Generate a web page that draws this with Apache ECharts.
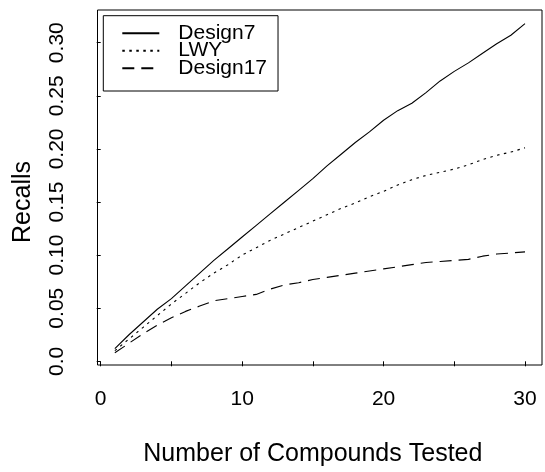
<!DOCTYPE html>
<html><head><meta charset="utf-8">
<script src="https://cdn.jsdelivr.net/npm/echarts@6/dist/echarts.min.js"></script>
<style>html,body{margin:0;padding:0;background:#fff}#c{width:545px;height:472px}</style>
</head><body><div id="c"></div>
<script>
const compounds = [1,2,3,4,5,6,7,8,9,10,11,12,13,14,15,16,17,18,19,20,21,22,23,24,25,26,27,28,29,30];
const design7 = [0.012,0.025,0.037,0.049,0.059,0.071,0.083,0.095,0.106,0.117,0.128,0.139,0.150,0.161,0.172,0.184,0.195,0.206,0.216,0.227,0.236,0.243,0.253,0.264,0.273,0.281,0.290,0.299,0.307,0.318];
const lwy = [0.010,0.021,0.032,0.043,0.054,0.064,0.074,0.083,0.091,0.100,0.107,0.114,0.120,0.126,0.132,0.138,0.144,0.149,0.155,0.160,0.166,0.171,0.175,0.178,0.181,0.185,0.190,0.194,0.197,0.201];
const design17 = [0.008,0.017,0.026,0.034,0.041,0.047,0.052,0.057,0.059,0.061,0.063,0.068,0.072,0.074,0.077,0.079,0.081,0.083,0.085,0.087,0.089,0.091,0.093,0.094,0.095,0.096,0.099,0.101,0.102,0.103];
const xTickLabels = ['0','10','20','30'];
const yTickLabels = ['0.0','0.05','0.10','0.15','0.20','0.25','0.30'];
const seriesNames = ['Design7','LWY','Design17'];

const FONT = 'Liberation Sans, Arial, sans-serif';
const chart = echarts.init(document.getElementById('c'), null, {renderer:'canvas'});
const pair = arr => compounds.map((x,i)=>[x, arr[i]]);
const mk = (name, arr, type) => ({
  name, type:'line', data: pair(arr), xAxisIndex:0, yAxisIndex:0,
  symbol:'none', clip:false, animation:false,
  lineStyle:{color:'#000', width:1.1, type}
});
chart.setOption({
  animation:false,
  backgroundColor:'#fff',
  textStyle:{fontFamily:FONT, color:'#000'},
  grid:[
    {left:100.7, right:20, top:42.7, bottom:108.7, show:false},
    {left:97.5, right:3, top:10, bottom:107, show:true, borderColor:'#000', borderWidth:1, backgroundColor:'transparent'}
  ],
  xAxis:[
    {type:'value', gridIndex:0, min:0, max:30, interval:5, offset:1.7,
     axisLine:{show:false}, splitLine:{show:false},
     axisTick:{show:true, inside:false, length:5, lineStyle:{color:'#000', width:1}},
     axisLabel:{show:true, margin:26, fontSize:21, color:'#000', fontFamily:FONT,
       showMinLabel:true, showMaxLabel:true,
       formatter: v => xTickLabels.includes(String(v)) ? String(v) : ''},
     name:'Number of Compounds Tested', nameLocation:'middle', nameGap:79,
     nameTextStyle:{fontSize:25, color:'#000', fontFamily:FONT}},
    {type:'value', gridIndex:1, show:false, min:0, max:1}
  ],
  yAxis:[
    {type:'value', gridIndex:0, min:0, max:0.30, interval:0.05, offset:3.2,
     axisLine:{show:false}, splitLine:{show:false},
     axisTick:{show:true, inside:false, length:4, lineStyle:{color:'#000', width:1}},
     axisLabel:{show:true, rotate:90, margin:30, fontSize:21, color:'#000', fontFamily:FONT,
       showMinLabel:true, showMaxLabel:true,
       formatter: (v, i) => yTickLabels[Math.round(v/0.05)]},
     name:'Recalls', nameLocation:'middle', nameGap:62, nameRotate:90,
     nameTextStyle:{fontSize:25, color:'#000', fontFamily:FONT}},
    {type:'value', gridIndex:1, show:false, min:0, max:1}
  ],
  legend:{
    show:true, orient:'vertical', left:103.3, top:15.7,
    data: seriesNames,
    itemWidth:37, itemHeight:14, itemGap:-3.5,
    padding:[7,11,12.3,18],
    borderColor:'#000', borderWidth:1, backgroundColor:'#fff',
    selectedMode:false,
    itemStyle:{color:'transparent', borderWidth:0},
    textStyle:{fontSize:21, color:'#000', fontFamily:FONT, padding:[0,0,0,14]}
  },
  series:[
    mk(seriesNames[0], design7, 'solid'),
    mk(seriesNames[1], lwy, [2.5,4.5]),
    mk(seriesNames[2], design17, [12,7])
  ]
});
</script>
</body></html>
